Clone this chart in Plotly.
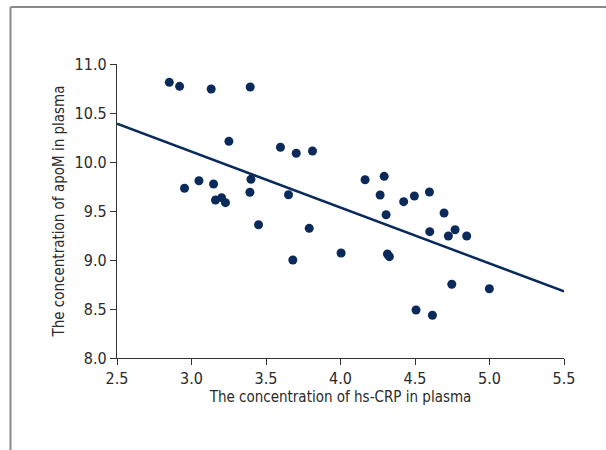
import plotly.graph_objects as go

hs_crp = [2.851, 2.920, 3.132, 3.394, 3.251, 3.597, 3.703, 3.812, 2.953, 3.050,
          3.148, 3.161, 3.202, 3.228, 3.399, 3.392, 3.450, 3.651, 3.680, 3.790,
          4.004, 4.165, 4.266, 4.293, 4.306, 4.315, 4.328, 4.424, 4.496, 4.597,
          4.599, 4.695, 4.724, 4.769, 4.847, 4.747, 4.507, 4.617, 4.999]
apom = [10.813, 10.772, 10.745, 10.765, 10.211, 10.150, 10.089, 10.112, 9.732, 9.809,
        9.776, 9.612, 9.636, 9.585, 9.823, 9.691, 9.360, 9.666, 9.000, 9.323,
        9.071, 9.819, 9.663, 9.854, 9.462, 9.061, 9.034, 9.595, 9.653, 9.694,
        9.289, 9.480, 9.245, 9.309, 9.245, 8.752, 8.490, 8.436, 8.707]
fit_x = [2.5, 5.5]
fit_y = [10.39, 8.68]

x_ticks = [2.5, 3.0, 3.5, 4.0, 4.5, 5.0, 5.5]
y_ticks = [8.0, 8.5, 9.0, 9.5, 10.0, 10.5, 11.0]

navy = "#0a2a5c"
font = "DejaVu Sans Condensed, Roboto, sans-serif"

fig = go.Figure()
fig.add_trace(go.Scatter(x=fit_x, y=fit_y, mode="lines",
                         line=dict(color=navy, width=2.5), hoverinfo="skip"))
fig.add_trace(go.Scatter(x=hs_crp, y=apom, mode="markers",
                         marker=dict(color=navy, size=9, line=dict(width=0))))

L, R, T, B = 117, 42, 64, 92
W, H = 606, 450
pw, ph = W - L - R, H - T - B

def px(xp):
    return (xp - L) / pw

def py(yp):
    return (H - B - yp) / ph

frame = dict(color="#8a8a8a", width=2)
fig.add_shape(type="line", xref="paper", yref="paper",
              x0=px(10.5), x1=px(606), y0=py(7), y1=py(7), line=frame)
fig.add_shape(type="line", xref="paper", yref="paper",
              x0=px(10.5), x1=px(10.5), y0=py(7), y1=py(450), line=frame)

axis_common = dict(showgrid=False, zeroline=False, showline=True,
                   linecolor="#333333", linewidth=1.3, ticks="outside",
                   ticklen=6, tickwidth=1.3, tickcolor="#333333",
                   tickformat=".1f", tickfont=dict(size=16, color="#2a2a2a", family=font),
                   title_font=dict(size=15, color="#2a2a2a", family=font),
                   automargin=False)

fig.update_xaxes(range=[2.5, 5.5], tickvals=x_ticks, **axis_common,
                 title_text="The concentration of hs-CRP in plasma", title_standoff=2)
fig.update_yaxes(range=[8.0, 11.0], tickvals=y_ticks, **axis_common,
                 title_text="The concentration of apoM in plasma", title_standoff=6)

fig.update_layout(width=W, height=H, showlegend=False,
                  margin=dict(l=L, r=R, t=T, b=B),
                  plot_bgcolor="white", paper_bgcolor="white",
                  font=dict(family=font, color="#2a2a2a"))

fig.write_html("out.html", config={"displayModeBar": False},
               post_script="document.body.style.margin='0';")
